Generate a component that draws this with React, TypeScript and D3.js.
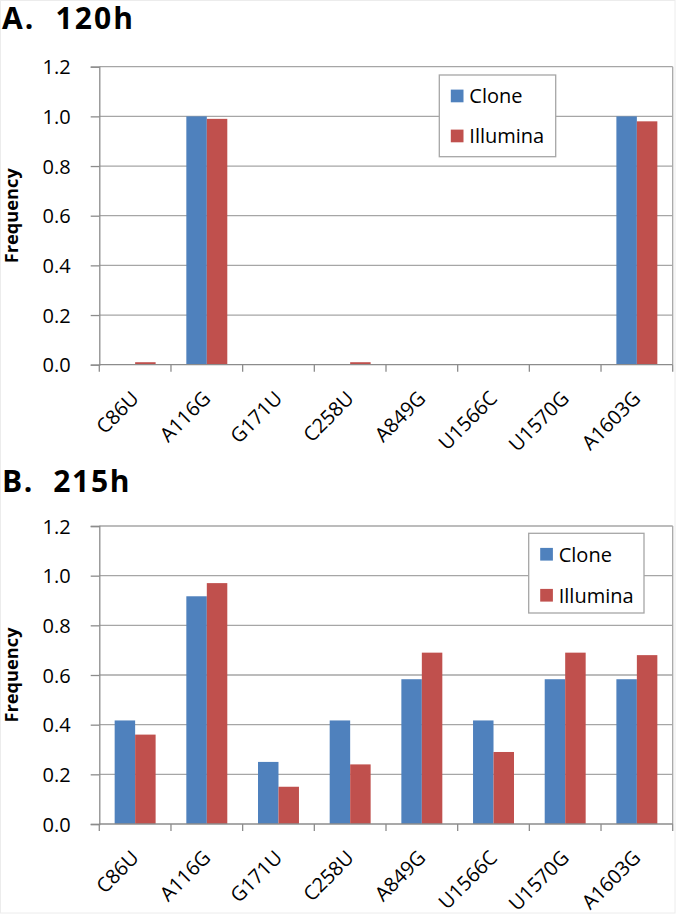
import React, { useEffect, useRef } from "react";
import * as d3 from "d3";

const categories = ["C86U", "A116G", "G171U", "C258U", "A849G", "U1566C", "U1570G", "A1603G"];
const seriesNames = ["Clone", "Illumina"];
const clone120 = [0, 1, 0, 0, 0, 0, 0, 1];
const illumina120 = [0.01, 0.99, 0, 0.01, 0, 0, 0, 0.98];
const clone215 = [0.417, 0.917, 0.25, 0.417, 0.583, 0.417, 0.583, 0.583];
const illumina215 = [0.36, 0.97, 0.15, 0.24, 0.69, 0.29, 0.69, 0.68];
const yTicks = [0, 0.2, 0.4, 0.6, 0.8, 1.0, 1.2];

const W = 677;
const H = 916;
const colors: Record<string, string> = { Clone: "#4F81BD", Illumina: "#C0504D" };
const FONT = "'Open Sans', sans-serif";

const App: React.FC = () => {
  const svgRef = useRef<SVGSVGElement | null>(null);

  useEffect(() => {
    const svg = d3.select(svgRef.current);
    svg.selectAll("*").remove();

    svg.append("rect").attr("width", W).attr("height", H).attr("fill", "#fff");
    // faint frame round the figure
    svg
      .append("rect")
      .attr("x", 0.5)
      .attr("y", 0.5)
      .attr("width", 674.5)
      .attr("height", 912.5)
      .attr("fill", "none")
      .attr("stroke", "#ececec");

    const panels = [
      {
        title: "A.  120h",
        titleY: 29,
        titleW: 131,
        y0: 364.7,
        clone: clone120,
        illumina: illumina120,
        legend: { x: 439.3, y: 75, w: 116.4, h: 81.7, gap: 40 },
      },
      {
        title: "B.  215h",
        titleY: 491.5,
        titleW: 127.5,
        y0: 824,
        clone: clone215,
        illumina: illumina215,
        legend: { x: 528.7, y: 533.3, w: 115.3, h: 79.7, gap: 41 },
      },
    ];

    const x = d3.scaleBand<string>().domain(categories).range([99.3, 672.7]).padding(0);
    const xs = d3
      .scaleBand<string>()
      .domain(seriesNames)
      .range([0, x.bandwidth()])
      .paddingInner(0)
      .paddingOuter(0.75);

    panels.forEach(p => {
      const y = d3.scaleLinear().domain([0, 1.2]).range([p.y0, p.y0 - 298]);
      const g = svg.append("g");

      g.append("text")
        .attr("x", 2)
        .attr("y", p.titleY)
        .attr("font-family", FONT)
        .attr("font-weight", 700)
        .attr("font-size", 30)
        .attr("textLength", p.titleW)
        .attr("lengthAdjust", "spacing")
        .style("white-space", "pre")
        .text(p.title);

      // gridlines
      g.selectAll("line.grid")
        .data(yTicks.slice(1))
        .join("line")
        .attr("x1", 99.3)
        .attr("x2", 672.7)
        .attr("y1", d => y(d))
        .attr("y2", d => y(d))
        .attr("stroke", "#a6a6a6")
        .attr("stroke-width", 1.3);

      // right border
      g.append("line")
        .attr("x1", 672.7)
        .attr("x2", 672.7)
        .attr("y1", y(1.2))
        .attr("y2", p.y0)
        .attr("stroke", "#a6a6a6")
        .attr("stroke-width", 1.3);

      // bars
      const rows = categories.map((c, i) => ({ c, Clone: p.clone[i], Illumina: p.illumina[i] }));
      g.selectAll("g.cat")
        .data(rows)
        .join("g")
        .attr("transform", d => `translate(${x(d.c)},0)`)
        .selectAll("rect")
        .data(d => seriesNames.map(s => ({ s, v: (d as any)[s] as number })))
        .join("rect")
        .attr("x", d => xs(d.s) as number)
        .attr("width", xs.bandwidth())
        .attr("y", d => y(d.v))
        .attr("height", d => p.y0 - y(d.v))
        .attr("fill", d => colors[d.s]);

      // y axis
      const yAxis = g
        .append("g")
        .attr("transform", "translate(99.3,0)")
        .call(
          d3
            .axisLeft(y)
            .tickValues(yTicks)
            .tickSize(8.6)
            .tickPadding(20)
            .tickFormat(d3.format(".1f"))
        );
      yAxis.select(".domain").attr("stroke", "#8c8c8c").attr("stroke-width", 1.3);
      yAxis.selectAll(".tick line").attr("stroke", "#8c8c8c").attr("stroke-width", 1.3);
      yAxis
        .selectAll(".tick text")
        .attr("font-family", FONT)
        .attr("font-size", 20)
        .attr("fill", "#000")
        .attr("x", -28.6)
        .attr("dy", "0.36em");

      // x axis line + ticks at category boundaries
      g.append("line")
        .attr("x1", 99.3)
        .attr("x2", 672.7)
        .attr("y1", p.y0)
        .attr("y2", p.y0)
        .attr("stroke", "#8c8c8c")
        .attr("stroke-width", 1.3);
      const bounds = categories.map(c => x(c) as number).concat([672.7]);
      g.selectAll("line.xt")
        .data(bounds)
        .join("line")
        .attr("x1", d => d)
        .attr("x2", d => d)
        .attr("y1", p.y0)
        .attr("y2", p.y0 + 7)
        .attr("stroke", "#8c8c8c")
        .attr("stroke-width", 1.3);

      g.selectAll("text.xl")
        .data(categories)
        .join("text")
        .attr(
          "transform",
          d => `translate(${(x(d) as number) + x.bandwidth() / 2 + 5},${p.y0 + 35}) rotate(-45)`
        )
        .attr("text-anchor", "end")
        .attr("font-family", FONT)
        .attr("font-size", 20)
        .text(d => d);

      // axis title
      g.append("text")
        .attr("transform", `translate(18,${p.y0 - 149}) rotate(-90)`)
        .attr("text-anchor", "middle")
        .attr("font-family", FONT)
        .attr("font-weight", 700)
        .attr("font-size", 17)
        .attr("textLength", 95)
        .attr("lengthAdjust", "spacingAndGlyphs")
        .text("Frequency");

      // legend
      const L = p.legend;
      const lg = g.append("g").attr("transform", `translate(${L.x},${L.y})`);
      lg.append("rect")
        .attr("width", L.w)
        .attr("height", L.h)
        .attr("fill", "#fff")
        .attr("stroke", "#a6a6a6")
        .attr("stroke-width", 1.3);
      seriesNames.forEach((s, i) => {
        const cy = 21 + i * L.gap;
        lg.append("rect")
          .attr("x", 11.5)
          .attr("y", cy - 6.4)
          .attr("width", 12.7)
          .attr("height", 12.7)
          .attr("fill", colors[s]);
        lg.append("text")
          .attr("x", 30)
          .attr("y", cy + 7.3)
          .attr("font-family", FONT)
          .attr("font-size", 20)
          .text(s);
      });
    });
  }, []);

  return (
    <svg
      ref={svgRef}
      width={W}
      height={H}
      style={{ position: "absolute", left: 0, top: 0 }}
    ></svg>
  );
};

export default App;
